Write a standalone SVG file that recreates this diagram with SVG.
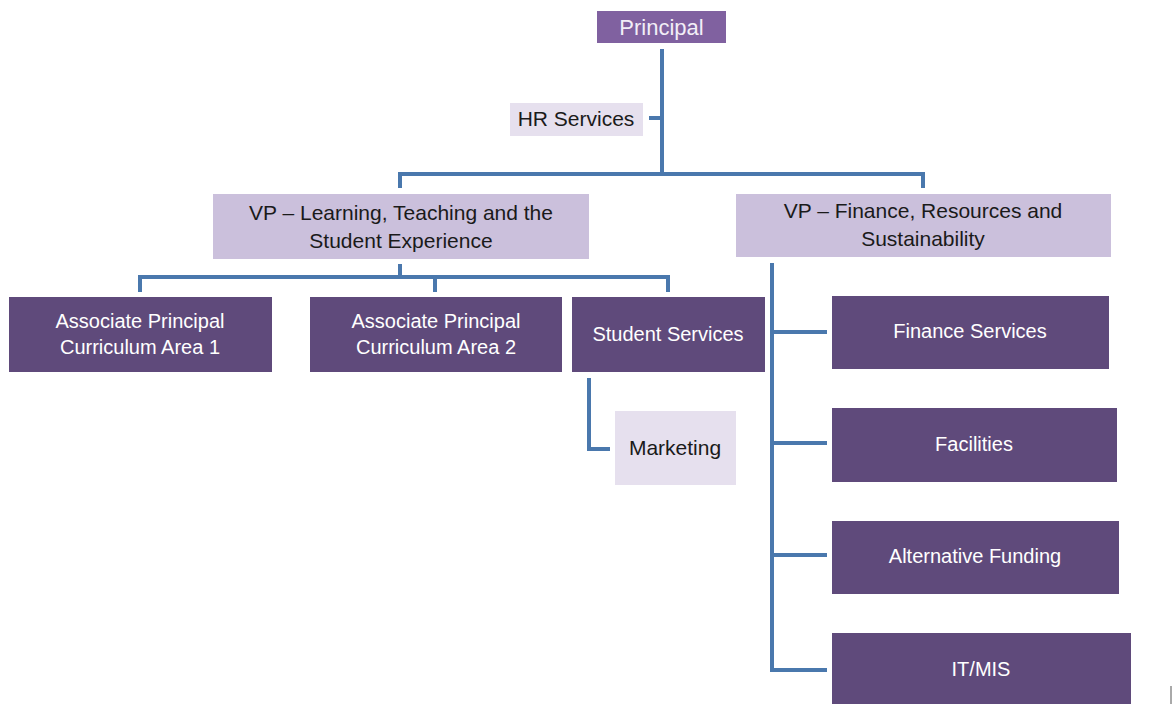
<svg xmlns="http://www.w3.org/2000/svg" width="1172" height="704" viewBox="0 0 1172 704">
<style>
.c{fill:none;stroke:#4a78ad;stroke-width:4}
.top{fill:#8061a0}
.lt{fill:#e6e0ee}
.vp{fill:#cbc0dc}
.dk{fill:#5f4a7b}
text{font-family:"Liberation Sans",Arial,sans-serif;text-anchor:middle}
.w{fill:#ffffff;font-size:20px}
.b{fill:#1a1a1a;font-size:21px}
</style>
<rect width="1172" height="704" fill="#ffffff"/>
<g id="connectors">
<path class="c" d="M662 49V174M649 118H662"/>
<path class="c" d="M400 188V174H923V188"/>
<path class="c" d="M400 264V277M140 292V277H668V292M435 277V292"/>
<path class="c" d="M589 378V449H610"/>
<path class="c" d="M772 263V670H827M772 332H827M772 443H827M772 555H827"/>
</g>
<g id="principal"><rect class="top" x="597" y="11" width="129" height="32"/><text x="661.5" y="35" style="font-size:22px;fill:#f2eef7">Principal</text></g>
<g id="hr"><rect class="lt" x="510" y="103" width="133" height="33"/><text class="b" x="576" y="126">HR Services</text></g>
<g id="vp-learning"><rect class="vp" x="213" y="194" width="376" height="65"/><text class="b" x="401" y="220">VP – Learning, Teaching and the</text><text class="b" x="401" y="248">Student Experience</text></g>
<g id="vp-finance"><rect class="vp" x="736" y="194" width="375" height="63"/><text class="b" x="923" y="218">VP – Finance, Resources and</text><text class="b" x="923" y="246">Sustainability</text></g>
<g id="ap1"><rect class="dk" x="9" y="297" width="263" height="75"/><text class="w" x="140" y="328">Associate Principal</text><text class="w" x="140" y="354">Curriculum Area 1</text></g>
<g id="ap2"><rect class="dk" x="310" y="297" width="252" height="75"/><text class="w" x="436" y="328">Associate Principal</text><text class="w" x="436" y="354">Curriculum Area 2</text></g>
<g id="student-services"><rect class="dk" x="572" y="297" width="193" height="75"/><text class="w" x="668" y="341">Student Services</text></g>
<g id="marketing"><rect class="lt" x="615" y="411" width="121" height="74"/><text class="b" x="675" y="455">Marketing</text></g>
<g id="finance-services"><rect class="dk" x="832" y="296" width="277" height="73"/><text class="w" x="970" y="338">Finance Services</text></g>
<g id="facilities"><rect class="dk" x="832" y="408" width="285" height="74"/><text class="w" x="974" y="451">Facilities</text></g>
<g id="alt-funding"><rect class="dk" x="832" y="521" width="287" height="73"/><text class="w" x="975" y="563">Alternative Funding</text></g>
<g id="itmis"><rect class="dk" x="832" y="633" width="299" height="75"/><text class="w" x="981" y="676">IT/MIS</text></g>
<line x1="1171" y1="686" x2="1171" y2="704" stroke="#555555" stroke-width="1"/>
</svg>
